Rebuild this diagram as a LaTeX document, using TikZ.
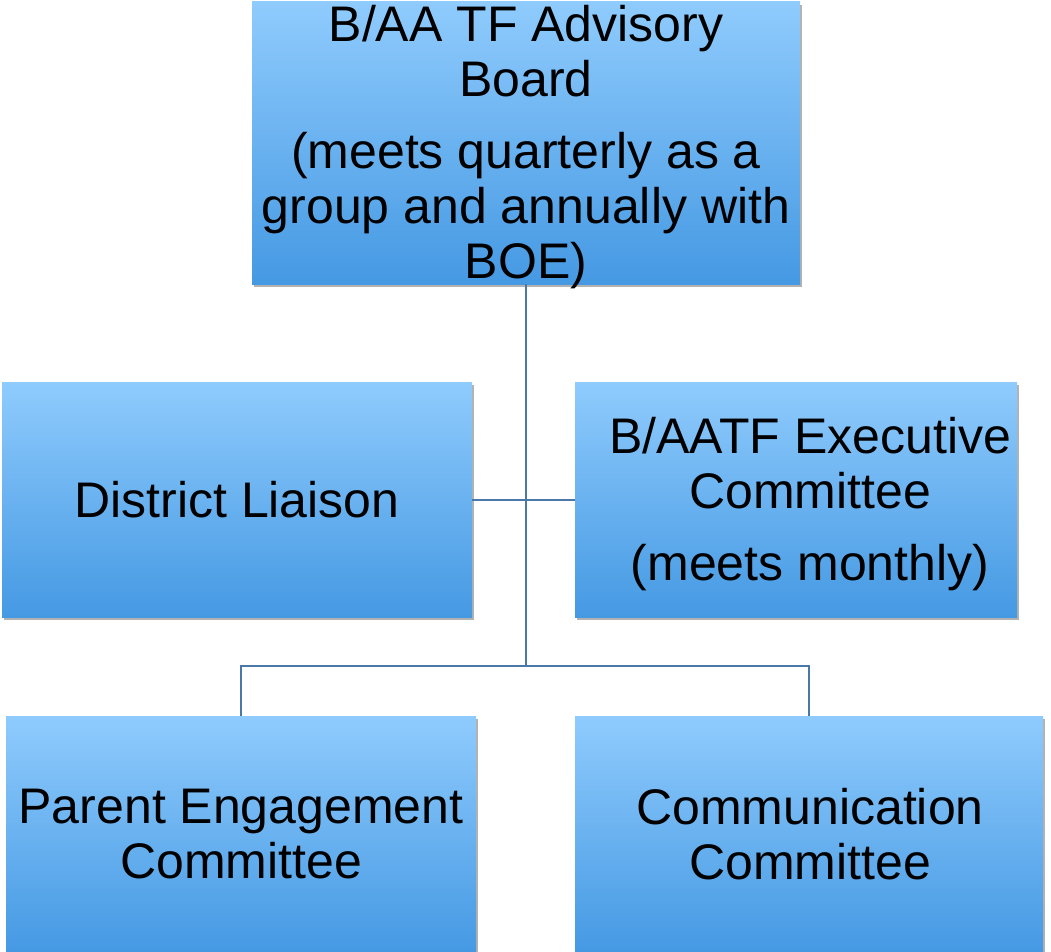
\documentclass[tikz,border=0pt]{standalone}
\usepackage{fontspec}
\setmainfont{Liberation Sans}
\usetikzlibrary{shadows}
\definecolor{boxtop}{RGB}{143,203,253}
\definecolor{boxbot}{RGB}{69,153,227}
\definecolor{linkc}{RGB}{74,120,168}
\tikzset{
  orgbox/.style={rectangle, inner sep=0pt, top color=boxtop, bottom color=boxbot,
    draw=none,
    drop shadow={shadow xshift=2pt, shadow yshift=-3pt, opacity=0.3, fill=black}},
  boxtext/.style={inner sep=0pt, align=center, font=\fontsize{50}{55}\selectfont},
  link/.style={draw=linkc, line width=2pt}
}
\begin{document}
\begin{tikzpicture}[x=1pt,y=1pt]
\useasboundingbox (0,0) rectangle (1051,-952);
\node[orgbox, minimum width=548pt, minimum height=282pt] (top) at (526,-143) {};
\node[boxtext] (toptext) at (526,-147)
  {B/AA TF Advisory\\Board\\[17pt](meets quarterly as a\\group and annually with\\BOE)};
\node[orgbox, minimum width=470pt, minimum height=235pt] (dl) at (237,-499.5) {};
\node[boxtext] (dltext) at (237,-499.5) {District Liaison};
\node[orgbox, minimum width=442pt, minimum height=235pt] (exec) at (796,-499.5) {};
\node[boxtext] (exectext) at (810,-504)
  {B/AATF Executive\\Committee\\[17pt](meets monthly)};
\node[orgbox, minimum width=470pt, minimum height=236pt] (pec) at (241,-834) {};
\node[boxtext] (pectext) at (241,-834) {Parent Engagement\\Committee};
\node[orgbox, minimum width=468pt, minimum height=236pt] (cc) at (809,-834) {};
\node[boxtext] (cctext) at (810,-834) {Communication\\Committee};
\coordinate (hub) at (526,-666);
\draw[link] (top.south) -- (hub);
\draw[link] (dl.east) -- (exec.west);
\draw[link] (hub) -| (pec.north);
\draw[link] (hub) -| (cc.north);
\end{tikzpicture}
\end{document}
